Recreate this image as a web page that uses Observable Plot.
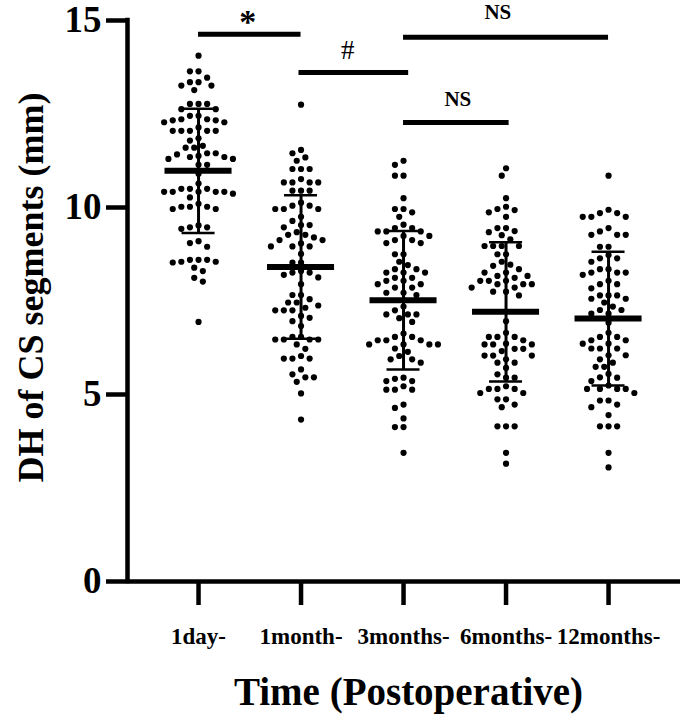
<!DOCTYPE html>
<html><head><meta charset="utf-8">
<script src="https://cdn.jsdelivr.net/npm/d3@7"></script>
<script src="https://cdn.jsdelivr.net/npm/@observablehq/plot@0.6"></script>
<style>html,body{margin:0;padding:0;background:#fff}#chart svg{display:block}</style>
</head><body><div id="chart"></div>
<script>
// ---- data ----
const groups = ["1day-", "1month-", "3months-", "6months-", "12months-"];

const day1 = [14.06,13.64,13.64,13.35,13.47,13.35,13.26,13.26,13.14,12.77,12.77,12.77,12.63,12.63,
  12.45,12.36,12.45,12.36,12.33,12.33,12.28,12.28,12.05,12.05,12.14,12.05,12.05,12.05,11.85,11.79,
  11.65,11.6,11.6,11.42,11.35,11.3,11.45,11.38,11.45,11.35,11.3,11.14,11.14,10.9,10.64,
  10.5,10.5,10.5,10.42,10.42,10.42,10.42,10.42,10.37,10.27,10.1,9.96,10.02,10.02,10.02,9.96,
  9.47,9.47,9.52,9.43,9.1,9.05,8.95,8.53,8.6,8.6,8.6,8.55,8.55,8.39,8.3,8.12,8.02,6.94];
const month1 = [12.75,11.54,11.45,11.34,11.25,11.03,11.03,11.03,10.67,10.67,10.76,10.67,10.67,
  10.45,10.45,10.45,9.96,10.05,9.96,10.13,10.05,9.96,9.75,9.64,9.53,9.53,9.47,
  9.27,9.27,9.34,9.13,9.13,9.2,8.96,8.96,8.96,9.04,8.76,8.53,8.53,8.26,8.26,8.2,8.13,8.3,
  7.95,7.66,7.66,7.46,7.46,7.55,7.38,7.25,7.25,7.32,7.25,7.1,7.05,6.96,6.83,
  6.47,6.47,6.54,6.47,6.54,6.47,6.34,6.22,5.96,5.96,6.03,5.96,5.67,5.46,5.46,5.34,5.54,5.03,4.33];
const months3 = [11.25,11.14,10.85,10.85,10.25,9.96,9.96,9.87,9.75,9.45,9.36,9.36,9.45,9.54,9.36,
  9.13,9.13,9.05,9.24,9.24,9.05,8.75,8.75,8.55,8.46,8.35,8.35,
  8.26,8.26,8.26,7.95,8.04,7.95,8.12,8.12,8.04,7.86,7.72,7.72,7.86,7.66,7.35,
  7.14,7.04,7.25,7.14,7.14,6.94,6.45,6.54,6.45,6.45,6.54,6.63,6.34,6.34,6.34,6.34,
  6.14,6.23,5.94,5.94,5.85,6.03,5.36,5.45,5.36,5.42,5.22,5.13,5.13,5.13,4.64,4.73,4.36,4.13,4.13,3.44];
const months6 = [11.05,10.85,10.25,9.96,10.02,9.93,9.87,9.75,9.37,9.45,9.45,9.26,9.34,
  8.97,8.97,8.97,8.97,8.75,8.75,9.15,8.55,8.35,8.44,8.47,8.17,8.26,8.26,8.17,
  8.04,7.95,8.04,8.04,8.12,7.86,7.86,7.95,7.95,7.75,7.65,7.75,6.96,6.65,
  6.54,6.54,6.54,6.45,6.34,6.34,6.36,6.34,6.22,6.22,6.04,6.04,6.16,6.04,5.94,5.85,5.85,5.71,
  5.54,5.45,5.45,5.15,5.15,5.04,5.22,5.04,5.15,4.87,4.87,4.66,4.73,4.15,4.15,4.15,3.44,3.15];
const months12 = [10.85,9.75,9.75,9.94,9.75,9.85,9.85,9.27,9.36,9.27,9.27,9.45,8.95,8.95,
  8.64,8.73,8.64,8.55,8.35,8.35,8.26,8.26,8.2,8.26,7.95,7.95,8.04,7.84,
  7.65,7.65,7.65,7.56,7.56,7.46,7.35,7.26,7.16,7.16,7.26,6.92,6.65,6.54,6.54,
  6.45,6.45,6.36,6.23,6.23,6.23,6.36,6.05,6.05,5.94,5.85,5.74,5.74,5.55,5.46,
  5.45,5.36,5.24,5.15,5.15,5.15,5.15,5.04,4.84,4.84,4.66,4.73,4.45,4.15,4.15,4.15,3.44,3.05];
const seriesValues = [day1, month1, months3, months6, months12];

const means = [10.98, 8.41, 7.52, 7.21, 7.03];
const sds   = [1.66, 1.92, 1.85, 1.86, 1.79];

const yTicks = [0, 5, 10, 15];
const sigText   = ["*", "#", "NS", "NS"];
const sigFrom   = [0, 0.98, 2, 2];
const sigTo     = [1, 2.05, 4, 3.03];
const sigLevel  = [14.63, 13.61, 14.55, 12.27];
const sigLabelX = [0.48, 1.455, 2.92, 2.53];
const sigLabelY = [14.97, 14.2, 15.21, 12.89];

const yLabel = "DH of CS segments (mm)";
const xLabel = "Time (Postoperative)";

// ---- layout ----
const W = 685, H = 716, mL = 127, mR = 5, mT = 20, mB = 135;
const xDomain = [-0.693, 4.702];
const xs = Plot.scale({x: {domain: xDomain, range: [mL, W - mR]}});
const ys = Plot.scale({y: {domain: [0, 15], range: [H - mB, mT]}});
const ppu = xs.apply(1) - xs.apply(0);

// beeswarm placement (GraphPad-like scatter)
const R = 3.1, MIN = 8.2, STEP = 4.3;
function swarm(vals, gi) {
  const placed = [], out = [];
  const sorted = vals.slice().sort((a, b) => b - a);
  for (const v of sorted) {
    const py = ys.apply(v);
    for (let k = 0; k < 60; k++) {
      const off = (k % 2 === 0 ? 1 : -1) * Math.ceil(k / 2) * STEP;
      if (placed.every(p => Math.hypot(p[0] - off, p[1] - py) >= MIN)) {
        placed.push([off, py]);
        out.push({gi, value: v, off});
        break;
      }
    }
  }
  return out;
}
const points = seriesValues.flatMap((vals, gi) => swarm(vals, gi));
const stats = groups.map((g, gi) => ({gi, mean: means[gi], sd: sds[gi]}));
const sig = sigText.map((t, i) => ({t, x1: sigFrom[i], x2: sigTo[i], y: sigLevel[i], lx: sigLabelX[i], ly: sigLabelY[i]}));

const FONT = "Liberation Serif, Times New Roman, serif";
const chart = Plot.plot({
  width: W, height: H,
  marginLeft: mL, marginRight: mR, marginTop: mT, marginBottom: mB,
  style: {fontFamily: FONT, background: "#fff", color: "#000"},
  x: {domain: xDomain},
  y: {domain: [0, 15]},
  marks: [
    Plot.axisY({ticks: yTicks, tickSize: 21, tickPadding: 5, strokeWidth: 4.5, fontSize: 37, fontWeight: "bold", label: null}),
    Plot.axisX({ticks: [0, 1, 2, 3, 4], tickFormat: i => groups[i], tickSize: 24, tickPadding: 22, strokeWidth: 4.5, fontSize: 23, fontWeight: "bold", label: null}),
    Plot.ruleY([0], {strokeWidth: 4.5}),
    Plot.ruleX([xDomain[0]], {strokeWidth: 4.5, strokeLinecap: "square"}),
    Plot.dot(points, {x: d => d.gi + d.off / ppu, y: "value", r: R, fill: "#000", stroke: null}),
    Plot.ruleX(stats, {x: "gi", y1: d => d.mean - d.sd, y2: d => d.mean + d.sd, strokeWidth: 3}),
    Plot.ruleY(stats, {x1: d => d.gi - 0.161, x2: d => d.gi + 0.161, y: d => d.mean + d.sd, strokeWidth: 2.5}),
    Plot.ruleY(stats, {x1: d => d.gi - 0.161, x2: d => d.gi + 0.161, y: d => d.mean - d.sd, strokeWidth: 2.5}),
    Plot.ruleY(stats, {x1: d => d.gi - 0.327, x2: d => d.gi + 0.327, y: "mean", strokeWidth: 6}),
    Plot.ruleY(sig, {x1: "x1", x2: "x2", y: "y", strokeWidth: 5}),
    Plot.text(sig.filter(d => d.t === "*"), {x: "lx", y: "ly", text: "t", fontSize: 34, fontWeight: "bold"}),
    Plot.text(sig.filter(d => d.t === "#"), {x: "lx", y: "ly", text: "t", fontSize: 27}),
    Plot.text(sig.filter(d => d.t === "NS"), {x: "lx", y: "ly", text: "t", fontSize: 21, fontWeight: "bold"}),
    Plot.text([yLabel], {frameAnchor: "left", textAnchor: "middle", dx: -96, dy: -13.5, rotate: -90, fontSize: 36, fontWeight: "bold", lineAnchor: "middle"}),
    Plot.text([xLabel], {frameAnchor: "bottom", textAnchor: "middle", dx: 4.5, dy: 111, fontSize: 39, fontWeight: "bold", lineAnchor: "middle"})
  ]
});
document.getElementById("chart").append(chart);
</script>
</body></html>
